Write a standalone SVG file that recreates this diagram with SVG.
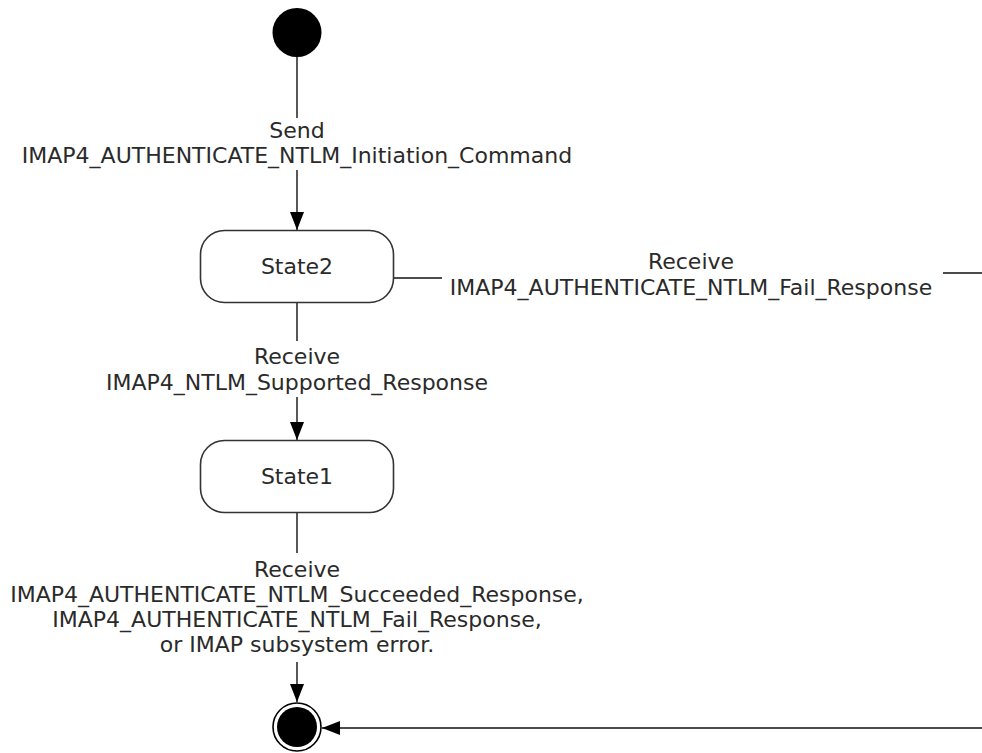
<svg xmlns="http://www.w3.org/2000/svg" width="982" height="753" viewBox="0 0 982 753">
  <style>
    .lbl { font-family: "DejaVu Sans", Verdana, sans-serif; font-size: 22px; fill: #2a2a2a; text-anchor: middle; }
    .state { fill: #ffffff; stroke: #333333; stroke-width: 1.6; }
    .edge { fill: none; stroke: #111111; stroke-width: 1.4; }
  </style>
  <defs>
    <marker id="arrow" viewBox="0 0 18 14" refX="18" refY="7" markerWidth="18" markerHeight="14" markerUnits="userSpaceOnUse" orient="auto">
      <path d="M0,0 L18,7 L0,14 Z" fill="#000000"/>
    </marker>
  </defs>
  <rect width="982" height="753" fill="#ffffff"/>

  <!-- transitions -->
  <g id="connectors">
    <line class="edge" x1="297" y1="57" x2="297" y2="118"/>
    <line class="edge" x1="297" y1="170" x2="297" y2="230" marker-end="url(#arrow)"/>

    <line class="edge" x1="394" y1="278" x2="442" y2="278"/>
    <line class="edge" x1="943" y1="273" x2="982" y2="273"/>

    <line class="edge" x1="297" y1="302" x2="297" y2="341"/>
    <line class="edge" x1="297" y1="397" x2="297" y2="440" marker-end="url(#arrow)"/>

    <line class="edge" x1="297" y1="512" x2="297" y2="553"/>
    <line class="edge" x1="297" y1="662" x2="297" y2="702" marker-end="url(#arrow)"/>

    <line class="edge" x1="982" y1="728" x2="322" y2="728" marker-end="url(#arrow)"/>

    <g id="edge-labels">
      <text class="lbl" x="297" y="138">Send</text>
      <text class="lbl" x="297" y="163">IMAP4_AUTHENTICATE_NTLM_Initiation_Command</text>

      <text class="lbl" x="691" y="269">Receive</text>
      <text class="lbl" x="691" y="295">IMAP4_AUTHENTICATE_NTLM_Fail_Response</text>

      <text class="lbl" x="297" y="364">Receive</text>
      <text class="lbl" x="297" y="390">IMAP4_NTLM_Supported_Response</text>

      <text class="lbl" x="297" y="577">Receive</text>
      <text class="lbl" x="297" y="602">IMAP4_AUTHENTICATE_NTLM_Succeeded_Response,</text>
      <text class="lbl" x="297" y="627">IMAP4_AUTHENTICATE_NTLM_Fail_Response,</text>
      <text class="lbl" x="297" y="652">or IMAP subsystem error.</text>
    </g>
  </g>

  <!-- states -->
  <g id="initial">
    <circle cx="297" cy="32.5" r="24.5" fill="#000000"/>
  </g>

  <g id="state2">
    <rect class="state" x="200.5" y="230.5" width="193" height="72" rx="24" ry="24"/>
    <text class="lbl" x="297" y="274">State2</text>
  </g>

  <g id="state1">
    <rect class="state" x="200.5" y="440.5" width="193" height="72" rx="24" ry="24"/>
    <text class="lbl" x="297" y="484">State1</text>
  </g>

  <g id="final">
    <circle cx="297" cy="727" r="24" fill="#ffffff" stroke="#000000" stroke-width="1.6"/>
    <circle cx="297" cy="727" r="20" fill="#000000"/>
  </g>
</svg>
